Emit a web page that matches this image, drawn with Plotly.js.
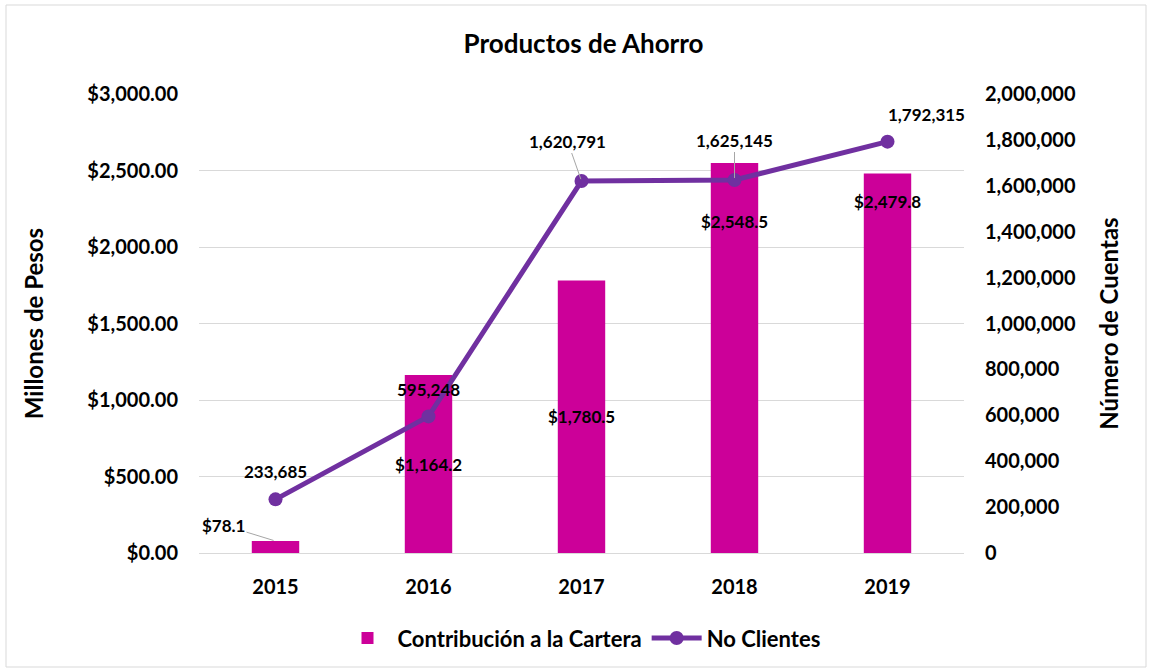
<!DOCTYPE html>
<html>
<head>
<meta charset="utf-8">
<script src="https://cdn.plot.ly/plotly-3.0.1.min.js"></script>
<style>
  html,body{margin:0;padding:0;background:#fff}
  #chart{width:1151px;height:672px}
</style>
</head>
<body>
<div id="chart"></div>
<script>
// Productos de Ahorro: bars (millions of pesos) + line (accounts)
const years = [2015, 2016, 2017, 2018, 2019];
const cartera = [78.1, 1164.2, 1780.5, 2548.5, 2479.8];
const clientes = [233685, 595248, 1620791, 1625145, 1792315];
const carteraLabels = ['$78.1','$1,164.2','$1,780.5','$2,548.5','$2,479.8'];
const clientesLabels = ['233,685','595,248','1,620,791','1,625,145','1,792,315'];
const leftTicks = [0, 500, 1000, 1500, 2000, 2500, 3000];
const leftTickText = ['$0.00','$500.00','$1,000.00','$1,500.00','$2,000.00','$2,500.00','$3,000.00'];
const rightTicks = [0,200000,400000,600000,800000,1000000,1200000,1400000,1600000,1800000,2000000];
const rightTickText = ['0','200,000','400,000','600,000','800,000','1,000,000','1,200,000','1,400,000','1,600,000','1,800,000','2,000,000'];

const FONT = 'Lato, "Open Sans", sans-serif';
const BAR = '#CC0099', LINE = '#7030A0';

// label placement (pixel offsets from the mark)
const barLabelPos = [
  {ax:-52, ay:-16, arrow:true},
  {yshift:-90}, {yshift:-136}, {yshift:-58}, {yshift:-28}
];
const lineLabelPos = [
  {yshift:28}, {yshift:27},
  {ax:-14, ay:-40, arrow:true},
  {ax:0, ay:-40, arrow:true},
  {xshift:39, yshift:27}
];

function mkAnn(x, y, text, pos, yref){
  const a = {x:x, y:y, xref:'x', yref:yref, text:text,
    font:{family:FONT, size:17, color:'#000', weight:'bold'}};
  if(pos.arrow){
    a.showarrow = true; a.ax = pos.ax; a.ay = pos.ay;
    a.arrowhead = 0; a.arrowwidth = 1; a.arrowcolor = '#A6A6A6';
    a.standoff = 2;
  } else {
    a.showarrow = false;
    a.xshift = pos.xshift || 0; a.yshift = pos.yshift || 0;
  }
  return a;
}

const annotations = [];
years.forEach((y,i)=>{
  annotations.push(mkAnn(y, cartera[i], carteraLabels[i], barLabelPos[i], 'y'));
  annotations.push(mkAnn(y, clientes[i], clientesLabels[i], lineLabelPos[i], 'y2'));
});

const traces = [
  {type:'bar', x:years, y:cartera, name:'Contribución a la Cartera',
   marker:{color:BAR}, hoverinfo:'skip'},
  {type:'scatter', mode:'lines+markers', x:years, y:clientes, yaxis:'y2',
   name:'No Clientes', line:{color:LINE, width:5}, marker:{color:LINE, size:14},
   hoverinfo:'skip'}
];

const layout = {
  width:1151, height:672,
  margin:{l:199, r:187, t:94, b:119},
  paper_bgcolor:'#fff', plot_bgcolor:'#fff',
  font:{family:FONT, size:20, color:'#000', weight:'bold'},
  title:{text:'Productos de Ahorro', x:0.507, y:0.935, xanchor:'center', yanchor:'middle',
    font:{family:FONT, size:26, color:'#000', weight:'bold'}},
  bargap:0.69,
  showlegend:true,
  legend:{orientation:'h', x:0.5, xanchor:'center', y:-0.14, yanchor:'top',
    font:{family:FONT, size:22, color:'#000', weight:'bold'}, itemwidth:50, tracegroupgap:0},
  xaxis:{type:'linear', range:[2014.5, 2019.5], tickvals:years, showgrid:false,
    showline:true, linecolor:'#D9D9D9', linewidth:1, zeroline:false,
    ticks:'', ticklabelstandoff:16, tickfont:{family:FONT, size:20, weight:'bold'}},
  yaxis:{range:[0,3000], tickvals:leftTicks, ticktext:leftTickText, showgrid:true,
    gridcolor:'#D9D9D9', gridwidth:1, zeroline:false, showline:false, ticks:'',
    ticklabelstandoff:20, tickfont:{family:FONT, size:20, weight:'bold'},
    title:{text:'Millones de Pesos', standoff:36, font:{family:FONT, size:24, weight:'bold'}}},
  yaxis2:{overlaying:'y', side:'right', range:[0,2000000], tickvals:rightTicks,
    ticktext:rightTickText, showgrid:false, zeroline:false, showline:false, ticks:'',
    ticklabelstandoff:20, tickfont:{family:FONT, size:20, weight:'bold'},
    title:{text:'Número de Cuentas', standoff:26, font:{family:FONT, size:24, weight:'bold'}}},
  annotations:annotations,
  shapes:[{type:'rect', xref:'paper', yref:'paper', layer:'below',
    x0:-199/765+6/765, x1:1+(187-5)/765, y0:-(119-5)/459, y1:1+(94-5)/459,
    line:{color:'#D9D9D9', width:1}}]
};

Plotly.newPlot('chart', traces, layout, {displayModeBar:false, staticPlot:true});
</script>
</body>
</html>
